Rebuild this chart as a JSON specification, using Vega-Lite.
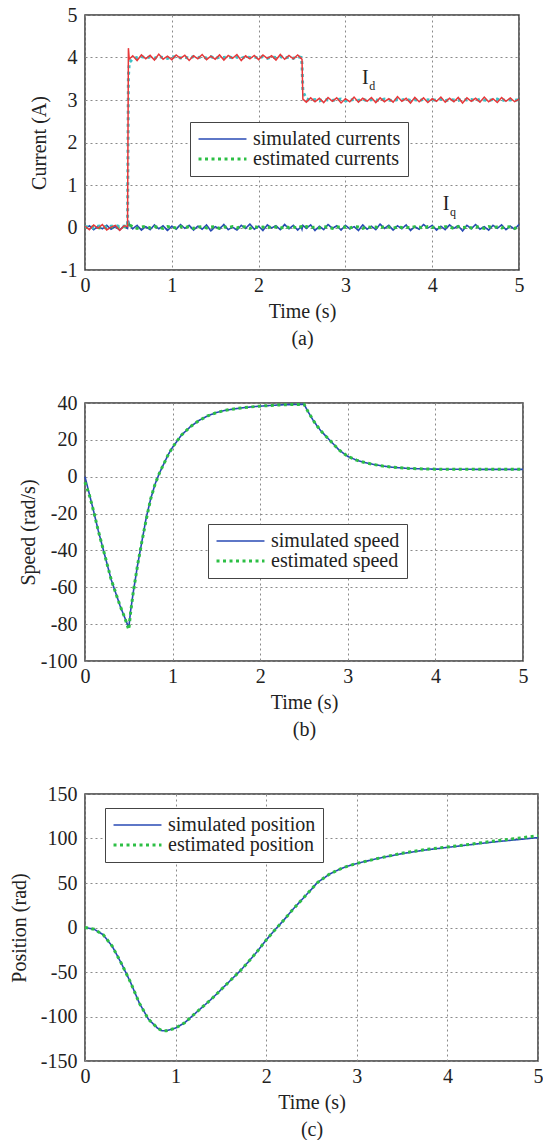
{
  "$schema": "https://vega.github.io/schema/vega-lite/v6.json",
  "background": "white",
  "padding": {"left": 8, "top": 4, "right": 4, "bottom": 0},
  "bounds": "flush",
  "spacing": 133,
  "resolve": {
    "scale": {"color": "independent", "strokeDash": "independent", "strokeWidth": "independent"},
    "legend": {"color": "independent", "strokeDash": "independent", "strokeWidth": "independent"}
  },
  "config": {
    "font": "Liberation Serif",
    "view": {"stroke": "#3a3a3a", "strokeWidth": 1.5},
    "axis": {
      "grid": true, "gridColor": "#8a8a8a", "gridDash": [2, 3], "gridWidth": 1,
      "ticks": false, "domain": false,
      "labelFont": "Liberation Serif", "labelFontSize": 20, "labelColor": "#222",
      "titleFont": "Liberation Serif", "titleFontSize": 20, "titleFontWeight": "normal", "titleColor": "#222",
      "labelFlush": false, "labelOverlap": false,
      "labelExpr": "'' + datum.value"
    },
    "axisX": {"labelPadding": 5, "titlePadding": 6, "titleLineHeight": 27},
    "axisY": {"labelPadding": 8},
    "legend": {
      "orient": "none", "title": null,
      "labelFont": "Liberation Serif", "labelFontSize": 20, "labelColor": "#222",
      "symbolType": "stroke", "symbolSize": 2300, "symbolStrokeWidth": 2,
      "clipHeight": 20,
      "strokeColor": "#444", "fillColor": "white", "padding": 7, "rowPadding": 0,
      "labelOffset": 5, "labelLimit": 400
    }
  },
  "vconcat": [
    {
      "width": 434,
      "height": 255,
      "data": {"values": [
        {"t":0,"ids":0.03,"ide":0.01,"iqs":-0.02,"iqe":0.01},
        {"t":0.05,"ids":-0.05,"ide":0.02,"iqs":0.04,"iqe":-0.01},
        {"t":0.1,"ids":0.06,"ide":-0.01,"iqs":-0.05,"iqe":0.02},
        {"t":0.15,"ids":-0.02,"ide":0.03,"iqs":0.03,"iqe":0},
        {"t":0.2,"ids":0.07,"ide":0.04,"iqs":-0.03,"iqe":-0.02},
        {"t":0.25,"ids":-0.06,"ide":0.0,"iqs":0.05,"iqe":0.01},
        {"t":0.3,"ids":0.01,"ide":0.03,"iqs":-0.04,"iqe":0.02},
        {"t":0.35,"ids":0.05,"ide":0.05,"iqs":0.02,"iqe":-0.01},
        {"t":0.4,"ids":-0.07,"ide":0.02,"iqs":-0.06,"iqe":0.01},
        {"t":0.45,"ids":0.04,"ide":0.03,"iqs":0.04,"iqe":0.02},
        {"t":0.49,"ids":0.02,"ide":0.04,"iqs":-0.02,"iqe":0.0},
        {"t":0.5,"ids":4.22,"ide":3.55,"iqs":0.16,"iqe":0.12},
        {"t":0.51,"ids":3.96,"ide":3.88,"iqs":0.07,"iqe":0.06},
        {"t":0.55,"ids":4.04,"ide":3.97,"iqs":-0.03,"iqe":0.02},
        {"t":0.6,"ids":3.93,"ide":4.0,"iqs":0.05,"iqe":-0.02},
        {"t":0.65,"ids":4.06,"ide":4.02,"iqs":-0.06,"iqe":0.01},
        {"t":0.7,"ids":3.97,"ide":3.99,"iqs":0.02,"iqe":0.03},
        {"t":0.75,"ids":4.05,"ide":4.01,"iqs":-0.05,"iqe":-0.01},
        {"t":0.8,"ids":3.94,"ide":3.98,"iqs":0.06,"iqe":0.02},
        {"t":0.85,"ids":4.08,"ide":4.02,"iqs":-0.03,"iqe":0.0},
        {"t":0.9,"ids":3.96,"ide":4.0,"iqs":0.04,"iqe":-0.02},
        {"t":0.95,"ids":4.03,"ide":3.98,"iqs":-0.07,"iqe":0.02},
        {"t":1.0,"ids":3.95,"ide":4.01,"iqs":0.03,"iqe":0.01},
        {"t":1.05,"ids":4.06,"ide":4.02,"iqs":-0.04,"iqe":-0.01},
        {"t":1.1,"ids":3.98,"ide":3.99,"iqs":0.07,"iqe":0.02},
        {"t":1.15,"ids":4.05,"ide":4.01,"iqs":-0.02,"iqe":0.0},
        {"t":1.2,"ids":3.93,"ide":3.98,"iqs":0.05,"iqe":0.02},
        {"t":1.25,"ids":4.04,"ide":4.02,"iqs":-0.06,"iqe":-0.02},
        {"t":1.3,"ids":3.97,"ide":4.0,"iqs":0.03,"iqe":0.01},
        {"t":1.35,"ids":4.07,"ide":4.01,"iqs":-0.04,"iqe":0.02},
        {"t":1.4,"ids":3.95,"ide":3.99,"iqs":0.06,"iqe":-0.01},
        {"t":1.45,"ids":4.03,"ide":4.02,"iqs":-0.08,"iqe":0.01},
        {"t":1.5,"ids":3.96,"ide":3.98,"iqs":0.02,"iqe":0.02},
        {"t":1.55,"ids":4.06,"ide":4.01,"iqs":-0.03,"iqe":-0.02},
        {"t":1.6,"ids":3.94,"ide":4.0,"iqs":0.07,"iqe":0.01},
        {"t":1.65,"ids":4.05,"ide":4.02,"iqs":-0.05,"iqe":0.0},
        {"t":1.7,"ids":3.98,"ide":3.99,"iqs":0.01,"iqe":0.02},
        {"t":1.75,"ids":4.07,"ide":4.01,"iqs":-0.06,"iqe":-0.01},
        {"t":1.8,"ids":3.93,"ide":3.98,"iqs":0.05,"iqe":0.02},
        {"t":1.85,"ids":4.04,"ide":4.02,"iqs":-0.02,"iqe":0.01},
        {"t":1.9,"ids":3.97,"ide":4.0,"iqs":0.08,"iqe":-0.02},
        {"t":1.95,"ids":4.05,"ide":4.01,"iqs":-0.04,"iqe":0.02},
        {"t":2.0,"ids":3.95,"ide":3.99,"iqs":0.03,"iqe":0.0},
        {"t":2.05,"ids":4.06,"ide":4.02,"iqs":-0.07,"iqe":0.01},
        {"t":2.1,"ids":3.98,"ide":3.98,"iqs":0.06,"iqe":-0.01},
        {"t":2.15,"ids":4.04,"ide":4.01,"iqs":-0.01,"iqe":0.02},
        {"t":2.2,"ids":3.94,"ide":4.0,"iqs":0.04,"iqe":0.01},
        {"t":2.25,"ids":4.07,"ide":4.02,"iqs":-0.05,"iqe":-0.02},
        {"t":2.3,"ids":3.96,"ide":3.99,"iqs":0.07,"iqe":0.02},
        {"t":2.35,"ids":4.05,"ide":4.01,"iqs":-0.03,"iqe":0.0},
        {"t":2.4,"ids":3.97,"ide":3.98,"iqs":0.05,"iqe":0.01},
        {"t":2.45,"ids":4.06,"ide":4.02,"iqs":-0.06,"iqe":-0.01},
        {"t":2.49,"ids":3.98,"ide":4.0,"iqs":0.02,"iqe":0.02},
        {"t":2.5,"ids":3.96,"ide":3.85,"iqs":-0.04,"iqe":0.01},
        {"t":2.51,"ids":3.02,"ide":3.2,"iqs":0.05,"iqe":-0.01},
        {"t":2.55,"ids":2.95,"ide":3.03,"iqs":-0.02,"iqe":0.02},
        {"t":2.6,"ids":3.05,"ide":2.99,"iqs":0.06,"iqe":0.0},
        {"t":2.65,"ids":2.96,"ide":3.01,"iqs":-0.07,"iqe":0.01},
        {"t":2.7,"ids":3.04,"ide":2.98,"iqs":0.03,"iqe":-0.01},
        {"t":2.75,"ids":2.94,"ide":3.02,"iqs":-0.05,"iqe":0.02},
        {"t":2.8,"ids":3.06,"ide":3.0,"iqs":0.07,"iqe":0.01},
        {"t":2.85,"ids":2.97,"ide":2.99,"iqs":-0.02,"iqe":-0.02},
        {"t":2.9,"ids":3.05,"ide":3.01,"iqs":0.04,"iqe":0.02},
        {"t":2.95,"ids":2.93,"ide":3.02,"iqs":-0.06,"iqe":0.0},
        {"t":3.0,"ids":3.03,"ide":2.98,"iqs":0.05,"iqe":0.01},
        {"t":3.05,"ids":2.96,"ide":3.0,"iqs":-0.03,"iqe":-0.01},
        {"t":3.1,"ids":3.07,"ide":3.01,"iqs":0.02,"iqe":0.02},
        {"t":3.15,"ids":2.95,"ide":2.99,"iqs":-0.07,"iqe":0.01},
        {"t":3.2,"ids":3.04,"ide":3.02,"iqs":0.06,"iqe":-0.02},
        {"t":3.25,"ids":2.97,"ide":2.98,"iqs":-0.04,"iqe":0.02},
        {"t":3.3,"ids":3.06,"ide":3.01,"iqs":0.03,"iqe":0.0},
        {"t":3.35,"ids":2.94,"ide":3.0,"iqs":-0.05,"iqe":0.01},
        {"t":3.4,"ids":3.05,"ide":2.99,"iqs":0.08,"iqe":-0.01},
        {"t":3.45,"ids":2.96,"ide":3.02,"iqs":-0.02,"iqe":0.02},
        {"t":3.5,"ids":3.03,"ide":3.0,"iqs":0.05,"iqe":0.01},
        {"t":3.55,"ids":2.95,"ide":2.98,"iqs":-0.06,"iqe":-0.02},
        {"t":3.6,"ids":3.08,"ide":3.01,"iqs":0.04,"iqe":0.02},
        {"t":3.65,"ids":2.97,"ide":3.0,"iqs":-0.03,"iqe":0.0},
        {"t":3.7,"ids":3.04,"ide":3.02,"iqs":0.06,"iqe":0.01},
        {"t":3.75,"ids":2.93,"ide":2.99,"iqs":-0.07,"iqe":-0.01},
        {"t":3.8,"ids":3.06,"ide":3.01,"iqs":0.02,"iqe":0.02},
        {"t":3.85,"ids":2.96,"ide":2.98,"iqs":-0.04,"iqe":0.01},
        {"t":3.9,"ids":3.05,"ide":3.02,"iqs":0.07,"iqe":-0.02},
        {"t":3.95,"ids":2.94,"ide":3.0,"iqs":-0.01,"iqe":0.02},
        {"t":4.0,"ids":3.03,"ide":3.01,"iqs":0.05,"iqe":0.0},
        {"t":4.05,"ids":2.97,"ide":2.99,"iqs":-0.06,"iqe":0.01},
        {"t":4.1,"ids":3.07,"ide":3.02,"iqs":0.03,"iqe":-0.01},
        {"t":4.15,"ids":2.95,"ide":2.98,"iqs":-0.05,"iqe":0.02},
        {"t":4.2,"ids":3.04,"ide":3.01,"iqs":0.06,"iqe":0.01},
        {"t":4.25,"ids":2.96,"ide":3.0,"iqs":-0.02,"iqe":-0.02},
        {"t":4.3,"ids":3.06,"ide":2.99,"iqs":0.04,"iqe":0.02},
        {"t":4.35,"ids":2.93,"ide":3.02,"iqs":-0.08,"iqe":0.0},
        {"t":4.4,"ids":3.05,"ide":3.0,"iqs":0.05,"iqe":0.01},
        {"t":4.45,"ids":2.97,"ide":3.01,"iqs":-0.03,"iqe":-0.01},
        {"t":4.5,"ids":3.04,"ide":2.98,"iqs":0.07,"iqe":0.02},
        {"t":4.55,"ids":2.95,"ide":3.02,"iqs":-0.04,"iqe":0.01},
        {"t":4.6,"ids":3.07,"ide":3.0,"iqs":0.02,"iqe":-0.02},
        {"t":4.65,"ids":2.96,"ide":2.99,"iqs":-0.06,"iqe":0.02},
        {"t":4.7,"ids":3.03,"ide":3.01,"iqs":0.05,"iqe":0.0},
        {"t":4.75,"ids":2.94,"ide":3.02,"iqs":-0.02,"iqe":0.01},
        {"t":4.8,"ids":3.06,"ide":2.98,"iqs":0.06,"iqe":-0.01},
        {"t":4.85,"ids":2.97,"ide":3.01,"iqs":-0.05,"iqe":0.02},
        {"t":4.9,"ids":3.05,"ide":3.0,"iqs":0.03,"iqe":0.01},
        {"t":4.95,"ids":2.96,"ide":2.99,"iqs":-0.04,"iqe":-0.02},
        {"t":5.0,"ids":3.02,"ide":3.01,"iqs":0.07,"iqe":0.02}
      ]},
      "layer": [
        {
          "transform": [{"fold": ["iqs", "iqe"], "as": ["kind", "v"]}],
          "mark": {"type": "line"},
          "encoding": {
            "x": {"field": "t", "type": "quantitative", "scale": {"domain": [0, 5], "nice": false},
                  "axis": {"values": [0, 1, 2, 3, 4, 5], "title": ["Time (s)", "(a)"]}},
            "y": {"field": "v", "type": "quantitative", "scale": {"domain": [-1, 5], "nice": false},
                  "axis": {"values": [-1, 0, 1, 2, 3, 4, 5], "title": "Current (A)", "titlePadding": 11}},
            "color": {"field": "kind", "type": "nominal",
                      "scale": {"domain": ["iqs", "iqe"], "range": ["#2849b4", "#2dbf45"]},
                      "legend": {"legendX": 105, "legendY": 107, "labelExpr": "datum.label == 'iqs' ? 'simulated currents' : 'estimated currents'"}},
            "strokeDash": {"field": "kind", "type": "nominal",
                           "scale": {"domain": ["iqs", "iqe"], "range": [[1, 0], [3, 3.5]]},
                           "legend": {"legendX": 105, "legendY": 107, "labelExpr": "datum.label == 'iqs' ? 'simulated currents' : 'estimated currents'"}},
            "strokeWidth": {"field": "kind", "type": "nominal",
                            "scale": {"domain": ["iqs", "iqe"], "range": [1.6, 3]},
                            "legend": {"legendX": 105, "legendY": 107, "labelExpr": "datum.label == 'iqs' ? 'simulated currents' : 'estimated currents'"}}
          }
        },
        {
          "mark": {"type": "line", "color": "#3cc1c6", "strokeWidth": 3, "strokeDash": [3, 3.5]},
          "encoding": {
            "x": {"field": "t", "type": "quantitative"},
            "y": {"field": "ide", "type": "quantitative", "title": "Current (A)"}
          }
        },
        {
          "mark": {"type": "line", "color": "#e8383a", "strokeWidth": 1.5},
          "encoding": {
            "x": {"field": "t", "type": "quantitative"},
            "y": {"field": "ids", "type": "quantitative", "title": "Current (A)"}
          }
        },
        {
          "data": {"values": [
            {"t": 3.23, "v": 3.52, "main": "I", "sub": "d"},
            {"t": 4.16, "v": 0.55, "main": "I", "sub": "q"}
          ]},
          "layer": [
            {
              "mark": {"type": "text", "fontSize": 20, "font": "Liberation Serif", "color": "#222", "baseline": "middle", "align": "center"},
              "encoding": {
                "x": {"field": "t", "type": "quantitative"},
                "y": {"field": "v", "type": "quantitative", "title": "Current (A)"},
                "text": {"field": "main"}
              }
            },
            {
              "mark": {"type": "text", "fontSize": 12, "font": "Liberation Serif", "color": "#222", "baseline": "middle", "align": "left", "dx": 4, "dy": 8},
              "encoding": {
                "x": {"field": "t", "type": "quantitative"},
                "y": {"field": "v", "type": "quantitative", "title": "Current (A)"},
                "text": {"field": "sub"}
              }
            }
          ]
        }
      ]
    },
    {
      "width": 438,
      "height": 258,
      "data": {"values": [
        {"t":0,"s":0,"e":-3},
        {"t":0.05,"s":-9.5,"e":-10},
        {"t":0.1,"s":-19,"e":-19},
        {"t":0.15,"s":-29,"e":-29},
        {"t":0.2,"s":-38,"e":-38},
        {"t":0.25,"s":-47,"e":-47},
        {"t":0.3,"s":-56,"e":-56},
        {"t":0.35,"s":-63,"e":-63},
        {"t":0.4,"s":-70,"e":-70},
        {"t":0.45,"s":-76,"e":-76},
        {"t":0.5,"s":-82,"e":-83},
        {"t":0.52,"s":-73,"e":-74},
        {"t":0.55,"s":-63,"e":-63},
        {"t":0.6,"s":-48,"e":-48},
        {"t":0.65,"s":-35,"e":-35},
        {"t":0.7,"s":-22,"e":-23},
        {"t":0.75,"s":-12,"e":-12},
        {"t":0.8,"s":-4,"e":-4},
        {"t":0.85,"s":2,"e":2},
        {"t":0.9,"s":7,"e":7},
        {"t":0.95,"s":12,"e":12},
        {"t":1.0,"s":16,"e":16},
        {"t":1.1,"s":22.5,"e":22.5},
        {"t":1.2,"s":27,"e":27},
        {"t":1.3,"s":30.5,"e":30.5},
        {"t":1.4,"s":33,"e":33},
        {"t":1.5,"s":34.8,"e":34.8},
        {"t":1.6,"s":36,"e":36},
        {"t":1.7,"s":36.8,"e":36.8},
        {"t":1.8,"s":37.4,"e":37.4},
        {"t":1.9,"s":37.9,"e":37.9},
        {"t":2.0,"s":38.3,"e":38.3},
        {"t":2.1,"s":38.6,"e":38.6},
        {"t":2.2,"s":38.9,"e":38.9},
        {"t":2.3,"s":39.1,"e":39.1},
        {"t":2.4,"s":39.2,"e":39.2},
        {"t":2.5,"s":39.3,"e":39.3},
        {"t":2.55,"s":35,"e":35},
        {"t":2.6,"s":31,"e":31},
        {"t":2.65,"s":27.5,"e":27.5},
        {"t":2.7,"s":24.5,"e":24.5},
        {"t":2.75,"s":22,"e":22},
        {"t":2.8,"s":19.5,"e":19.5},
        {"t":2.9,"s":14.5,"e":14.5},
        {"t":3.0,"s":11,"e":11},
        {"t":3.1,"s":9,"e":9},
        {"t":3.2,"s":7.6,"e":7.6},
        {"t":3.3,"s":6.6,"e":6.6},
        {"t":3.4,"s":5.8,"e":5.8},
        {"t":3.5,"s":5.2,"e":5.2},
        {"t":3.6,"s":4.8,"e":4.8},
        {"t":3.7,"s":4.5,"e":4.5},
        {"t":3.8,"s":4.3,"e":4.3},
        {"t":4.0,"s":4.1,"e":4.1},
        {"t":4.5,"s":4,"e":4},
        {"t":5.0,"s":4,"e":4}
      ]},
      "transform": [{"fold": ["s", "e"], "as": ["kind", "v"]}],
      "mark": {"type": "line"},
      "encoding": {
        "x": {"field": "t", "type": "quantitative", "scale": {"domain": [0, 5], "nice": false},
              "axis": {"values": [0, 1, 2, 3, 4, 5], "title": ["Time (s)", "(b)"]}},
        "y": {"field": "v", "type": "quantitative", "scale": {"domain": [-100, 40], "nice": false},
              "axis": {"values": [-100, -80, -60, -40, -20, 0, 20, 40], "title": "Speed (rad/s)", "titlePadding": 2}},
        "color": {"field": "kind", "type": "nominal",
                  "scale": {"domain": ["s", "e"], "range": ["#2849b4", "#2dbf45"]},
                  "legend": {"legendX": 123, "legendY": 121, "labelExpr": "datum.label == 's' ? 'simulated speed' : 'estimated speed'"}},
        "strokeDash": {"field": "kind", "type": "nominal",
                       "scale": {"domain": ["s", "e"], "range": [[1, 0], [3, 3.5]]},
                       "legend": {"legendX": 123, "legendY": 121, "labelExpr": "datum.label == 's' ? 'simulated speed' : 'estimated speed'"}},
        "strokeWidth": {"field": "kind", "type": "nominal",
                        "scale": {"domain": ["s", "e"], "range": [1.6, 3]},
                        "legend": {"legendX": 123, "legendY": 121, "labelExpr": "datum.label == 's' ? 'simulated speed' : 'estimated speed'"}}
      }
    },
    {
      "width": 453,
      "height": 267,
      "data": {"values": [
        {"t":0,"s":0,"e":0},
        {"t":0.1,"s":-2,"e":-2},
        {"t":0.2,"s":-8,"e":-8},
        {"t":0.3,"s":-21,"e":-21},
        {"t":0.4,"s":-40,"e":-40},
        {"t":0.5,"s":-61,"e":-61},
        {"t":0.6,"s":-85,"e":-85},
        {"t":0.7,"s":-103,"e":-103},
        {"t":0.8,"s":-113,"e":-113},
        {"t":0.85,"s":-116,"e":-116},
        {"t":0.9,"s":-116,"e":-116},
        {"t":1.0,"s":-113,"e":-113},
        {"t":1.1,"s":-107,"e":-107},
        {"t":1.2,"s":-98,"e":-98},
        {"t":1.3,"s":-89,"e":-89},
        {"t":1.4,"s":-80,"e":-80},
        {"t":1.5,"s":-70,"e":-70},
        {"t":1.6,"s":-60,"e":-60},
        {"t":1.7,"s":-50,"e":-50},
        {"t":1.8,"s":-39,"e":-39},
        {"t":1.9,"s":-27,"e":-27},
        {"t":2.0,"s":-14,"e":-14},
        {"t":2.12,"s":0,"e":0},
        {"t":2.2,"s":9,"e":9},
        {"t":2.3,"s":21,"e":21},
        {"t":2.4,"s":32,"e":32},
        {"t":2.5,"s":43,"e":43},
        {"t":2.56,"s":50,"e":50},
        {"t":2.6,"s":53,"e":53},
        {"t":2.7,"s":60,"e":60},
        {"t":2.8,"s":65,"e":65},
        {"t":2.9,"s":69,"e":69},
        {"t":3.0,"s":72,"e":72},
        {"t":3.25,"s":78,"e":78},
        {"t":3.5,"s":83,"e":83.5},
        {"t":3.75,"s":87,"e":87.5},
        {"t":4.0,"s":90,"e":90.5},
        {"t":4.25,"s":93,"e":93.5},
        {"t":4.5,"s":96,"e":97},
        {"t":4.75,"s":98.5,"e":100},
        {"t":5.0,"s":101,"e":103}
      ]},
      "transform": [{"fold": ["s", "e"], "as": ["kind", "v"]}],
      "mark": {"type": "line"},
      "encoding": {
        "x": {"field": "t", "type": "quantitative", "scale": {"domain": [0, 5], "nice": false},
              "axis": {"values": [0, 1, 2, 3, 4, 5], "title": ["Time (s)", "(c)"]}},
        "y": {"field": "v", "type": "quantitative", "scale": {"domain": [-150, 150], "nice": false},
              "axis": {"values": [-150, -100, -50, 0, 50, 100, 150], "title": "Position (rad)", "titlePadding": 11}},
        "color": {"field": "kind", "type": "nominal",
                  "scale": {"domain": ["s", "e"], "range": ["#2849b4", "#2dbf45"]},
                  "legend": {"legendX": 20, "legendY": 14, "labelExpr": "datum.label == 's' ? 'simulated position' : 'estimated position'"}},
        "strokeDash": {"field": "kind", "type": "nominal",
                       "scale": {"domain": ["s", "e"], "range": [[1, 0], [3, 3.5]]},
                       "legend": {"legendX": 20, "legendY": 14, "labelExpr": "datum.label == 's' ? 'simulated position' : 'estimated position'"}},
        "strokeWidth": {"field": "kind", "type": "nominal",
                        "scale": {"domain": ["s", "e"], "range": [1.6, 3]},
                        "legend": {"legendX": 20, "legendY": 14, "labelExpr": "datum.label == 's' ? 'simulated position' : 'estimated position'"}}
      }
    }
  ]
}
